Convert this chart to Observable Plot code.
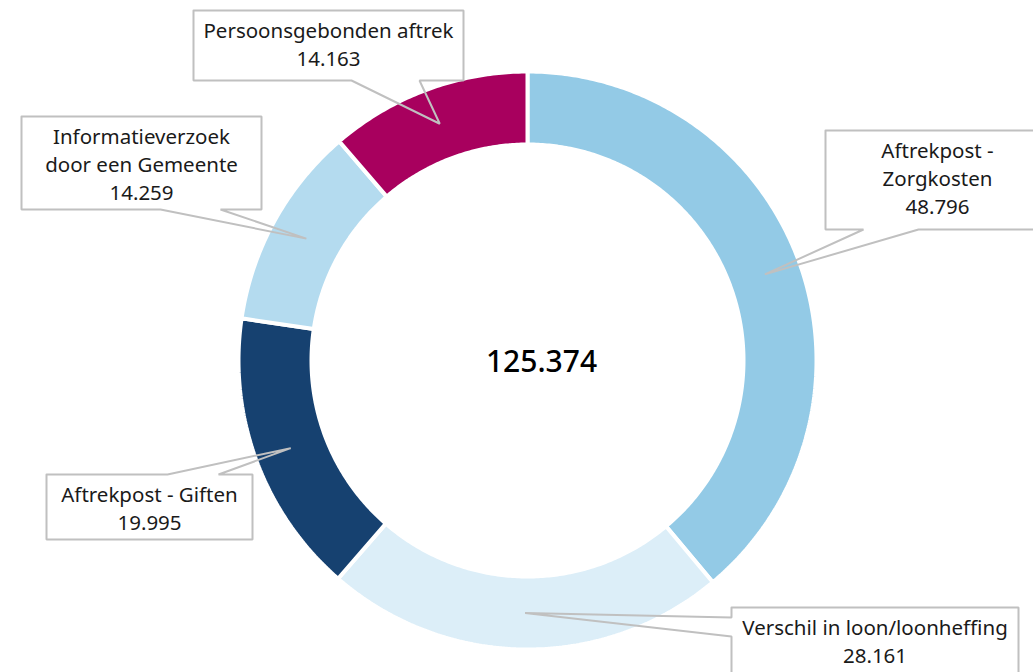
<!DOCTYPE html>
<html>
<head>
<meta charset="utf-8">
<script src="https://cdn.jsdelivr.net/npm/d3@7"></script>
<script src="https://cdn.jsdelivr.net/npm/@observablehq/plot@0.6"></script>
<style>
  html, body { margin: 0; padding: 0; background: #fff; overflow: hidden; }
  #chart svg { display: block; }
</style>
</head>
<body>
<div id="chart"></div>
<script>
// ---- data ----
const names = ["Aftrekpost - Zorgkosten", "Verschil in loon/loonheffing", "Aftrekpost - Giften", "Informatieverzoek door een Gemeente", "Persoonsgebonden aftrek"];
const labels = ["Aftrekpost -\nZorgkosten", "Verschil in loon/loonheffing", "Aftrekpost - Giften", "Informatieverzoek\ndoor een Gemeente", "Persoonsgebonden aftrek"];
const values = [48796, 28161, 19995, 14259, 14163];
const colors = ["#93cae6", "#dceef8", "#164170", "#b4dbef", "#a8005e"];

// ---- layout ----
const W = 1033, H = 672;
const CX = 527, CY = 360, R_OUT = 289, R_IN = 216, GAP = 4;
// callout boxes: [x1, x2, y1, y2], side of the pointer, pointer base (two coordinates along that side)
const boxes = [
  {box: [825, 1049, 130, 229], side: "bottom", base: [863, 918]},
  {box: [731, 1018, 607, 720], side: "left",   base: [617, 636]},
  {box: [46, 252, 474, 539],   side: "top",    base: [167, 218]},
  {box: [21, 261, 116, 209],   side: "bottom", base: [160, 220]},
  {box: [193, 463, 10, 80],    side: "bottom", base: [351, 419]}
];
const textPad = 8;

const nl = d3.formatLocale({decimal: ",", thousands: ".", grouping: [3], currency: ["€", ""]});
const fmt = nl.format(",d");

const arcs = d3.pie().sort(null)(values);
const polar = (a, r) => ({x: CX + r * Math.sin(a), y: CY - r * Math.cos(a)});

// donut slices as closed polygons
const slicePts = [];
arcs.forEach((a, i) => {
  const n = Math.max(8, Math.ceil((a.endAngle - a.startAngle) / 0.01));
  const pts = [];
  for (let k = 0; k <= n; k++) pts.push(polar(a.startAngle + (a.endAngle - a.startAngle) * k / n, R_OUT));
  for (let k = n; k >= 0; k--) pts.push(polar(a.startAngle + (a.endAngle - a.startAngle) * k / n, R_IN));
  pts.push(pts[0]);
  pts.forEach(p => slicePts.push({name: names[i], ...p}));
});

// callouts
const calloutPts = [];
const calloutText = [];
arcs.forEach((a, i) => {
  const tip = polar((a.startAngle + a.endAngle) / 2, (R_OUT + R_IN) / 2);
  const {box: [x1, x2, y1, y2], side, base: [b1, b2]} = boxes[i];
  let pts;
  if (side === "bottom") {
    pts = [[x1, y1], [x2, y1], [x2, y2], [b2, y2], [tip.x, tip.y], [b1, y2], [x1, y2], [x1, y1]];
  } else if (side === "top") {
    pts = [[x1, y1], [b1, y1], [tip.x, tip.y], [b2, y1], [x2, y1], [x2, y2], [x1, y2], [x1, y1]];
  } else {
    pts = [[x1, y1], [x2, y1], [x2, y2], [x1, y2], [x1, b2], [tip.x, tip.y], [x1, b1], [x1, y1]];
  }
  pts.forEach(([x, y]) => calloutPts.push({name: names[i], x, y}));
  calloutText.push({x: (x1 + x2) / 2, y: y1 + textPad, text: labels[i] + "\n" + fmt(values[i])});
});

const chart = Plot.plot({
  width: W,
  height: H,
  margin: 0,
  x: {domain: [0, W], axis: null},
  y: {domain: [H, 0], axis: null},
  color: {domain: names, range: colors},
  style: {fontFamily: "'Noto Sans', sans-serif", background: "#fff"},
  marks: [
    Plot.line(slicePts, {x: "x", y: "y", z: "name", fill: "name", stroke: "#fff", strokeWidth: GAP, strokeLinejoin: "miter"}),
    Plot.line(calloutPts, {x: "x", y: "y", z: "name", stroke: "#c0c0c0", strokeWidth: 2, fill: "none", strokeLinejoin: "miter"}),
    Plot.text(calloutText, {x: "x", y: "y", text: "text", fontSize: 20.5, lineHeight: 1.36, lineAnchor: "top", textAnchor: "middle", fill: "#1a1a1a"}),
    Plot.text([d3.sum(values)], {x: CX + 14, y: CY + 2, text: d => fmt(d), fontSize: 30, fontWeight: 500, fill: "#000", textAnchor: "middle", lineAnchor: "middle"})
  ]
});
document.getElementById("chart").append(chart);
</script>
</body>
</html>
